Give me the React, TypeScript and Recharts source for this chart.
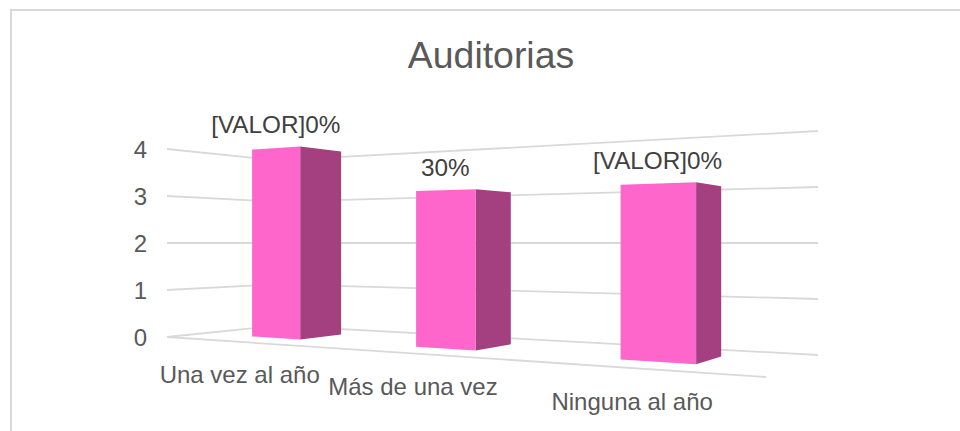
import React from "react";
import { BarChart, Bar, XAxis, YAxis, CartesianGrid, LabelList } from "recharts";

const categories = ["Una vez al año", "Más de una vez", "Ninguna al año"];
const values = [4, 3, 3];
const valueLabels = ["[VALOR]0%", "30%", "[VALOR]0%"];
const valueTicks = [0, 1, 2, 3, 4];

const data = categories.map((name, i) => ({ name, value: values[i], label: valueLabels[i] }));

const WIDTH = 960;
const HEIGHT = 431;
const PLOT_LEFT = 167;
const PLOT_TOP = 149;
const PLOT_BOTTOM = 337;
const PLOT_RIGHT = 766;
const HORIZON = (PLOT_TOP + PLOT_BOTTOM) / 2;

const FONT = "'Liberation Sans', Arial, sans-serif";
const GRID = "#d9d9d9";
const FRONT = "#ff66cc";
const SIDE = "#a43f80";

// depth range of the bars, 0 is the front edge of the floor and 1 the back wall
const BAR_FRONT = 0.29;
const BAR_BACK = 0.68;
const BAR_SHIFT = 1.5;

// perspective mapping of the flat plot onto the tilted 3d box
function project(flatX: number, flatY: number, depth: number) {
  const u = (flatX - PLOT_LEFT) / (PLOT_RIGHT - PLOT_LEFT);
  const den = 1 - 0.2985 * u + 0.1375 * depth;
  return {
    x: (PLOT_LEFT + 370.4 * u + 149 * depth) / den,
    y: HORIZON + (flatY - HORIZON) / den,
  };
}

function pathOf(points: Array<{ x: number; y: number }>, close = false) {
  const d = points.map((p, i) => `${i === 0 ? "M" : "L"}${p.x.toFixed(1)},${p.y.toFixed(1)}`).join(" ");
  return close ? d + " Z" : d;
}

function GridLine(props: any) {
  const { x1, x2, y1 } = props;
  const wall = [project(x1, y1, 0), project(x1, y1, 1), project(x2, y1, 1)];
  const atFloor = Math.abs(y1 - PLOT_BOTTOM) < 0.5;
  return (
    <g>
      <path d={pathOf(wall)} fill="none" stroke={GRID} strokeWidth={1.8} />
      {atFloor && <path d={pathOf([project(x1, y1, 0), project(x2, y1, 0)])} fill="none" stroke={GRID} strokeWidth={1.8} />}
    </g>
  );
}

function Bar3D(props: any) {
  const { x, y, width, height } = props;
  const left = x + BAR_SHIFT;
  const right = x + width + BAR_SHIFT;
  const top = y;
  const bottom = y + height;
  const front = [
    project(left, top, BAR_FRONT),
    project(right, top, BAR_FRONT),
    project(right, bottom, BAR_FRONT),
    project(left, bottom, BAR_FRONT),
  ];
  const side = [
    project(right, top, BAR_FRONT),
    project(right, top, BAR_BACK),
    project(right, bottom, BAR_BACK),
    project(right, bottom, BAR_FRONT),
  ];
  return (
    <g>
      <path d={pathOf(side, true)} fill={SIDE} />
      <path d={pathOf(front, true)} fill={FRONT} />
    </g>
  );
}

function BarLabel(props: any) {
  const { x, y, width, value } = props;
  const p = project(x + width / 2 + BAR_SHIFT, y, BAR_FRONT);
  return (
    <text x={p.x} y={p.y - 23} dy="0.35em" textAnchor="middle" fontFamily={FONT} fontSize={24.3} fill="#404040">
      {value}
    </text>
  );
}

function CategoryTick(props: any) {
  const { x, payload } = props;
  const p = project(x, PLOT_BOTTOM, 0);
  return (
    <text x={p.x - 1} y={p.y + 33} dy="0.35em" textAnchor="middle" fontFamily={FONT} fontSize={24} fill="#595959">
      {payload.value}
    </text>
  );
}

export default function App() {
  return (
    <div style={{ position: "absolute", left: 0, top: 0, width: WIDTH, height: HEIGHT, background: "#fff", overflow: "hidden" }}>
      <div style={{ position: "absolute", left: 10, top: 9, width: WIDTH - 10, height: HEIGHT - 9, borderLeft: `2px solid ${GRID}`, borderTop: `2px solid ${GRID}`, boxSizing: "border-box" }} />
      <BarChart
        width={WIDTH}
        height={HEIGHT}
        data={data}
        barCategoryGap="34.2%"
        margin={{ top: PLOT_TOP, right: WIDTH - PLOT_RIGHT, bottom: 0, left: 0 }}
        style={{ position: "absolute", left: 0, top: 0 }}
      >
        <text x={491} y={55} dy="0.35em" textAnchor="middle" fontFamily={FONT} fontSize={37.4} fill="#595959">
          Auditorias
        </text>
        <CartesianGrid vertical={false} horizontal={(p: any) => <GridLine key={p.key ?? p.y1} {...p} />} />
        <XAxis dataKey="name" height={HEIGHT - PLOT_BOTTOM} axisLine={false} tickLine={false} interval={0} tick={<CategoryTick />} />
        <YAxis
          width={PLOT_LEFT}
          domain={[0, 4]}
          ticks={valueTicks}
          axisLine={false}
          tickLine={false}
          tickSize={0}
          tickMargin={20}
          tick={{ fontFamily: FONT, fontSize: 24, fill: "#595959" }}
        />
        <Bar dataKey="value" shape={<Bar3D />} isAnimationActive={false}>
          <LabelList dataKey="label" content={<BarLabel />} />
        </Bar>
      </BarChart>
    </div>
  );
}
